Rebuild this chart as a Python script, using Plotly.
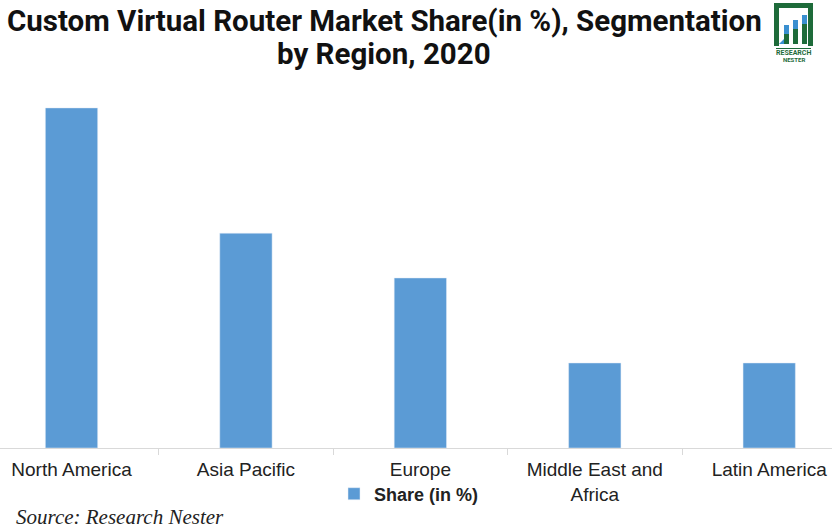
import plotly.graph_objects as go

regions = ["North America", "Asia Pacific", "Europe", "Middle East and<br>Africa", "Latin America"]
share = [38, 24, 19, 9.5, 9.5]
series_name = "Share (in %)"
title_line1 = "Custom Virtual Router Market Share(in %), Segmentation"
title_line2 = "by Region, 2020"
source_text = "Source: Research Nester"

fig = go.Figure()
fig.add_trace(go.Bar(
    x=regions, y=share, name="<b>" + series_name + "</b>",
    marker=dict(color="#5b9bd5"), width=0.30,
    showlegend=True,
))

W, H = 832, 528
mt, mb = 90, 80

shapes = []
def px(x):
    return x / W
def py(y):
    return 1 - (y - mt) / (H - mt - mb)

green = "#1e6b3a"
blue = "#3a8fd0"
shapes.append(dict(type="rect", xref="paper", yref="paper", x0=px(774), x1=px(813), y0=py(46), y1=py(3),
                   line=dict(color=green, width=0), fillcolor=green, layer="above"))
shapes.append(dict(type="rect", xref="paper", yref="paper", x0=px(779), x1=px(808), y0=py(46), y1=py(8),
                   line=dict(width=0), fillcolor="white", layer="above"))
for bx, top in [(784, 25), (793, 20), (802, 15)]:
    shapes.append(dict(type="rect", xref="paper", yref="paper", x0=px(bx), x1=px(bx + 5), y0=py(44), y1=py(top),
                       line=dict(width=0), fillcolor=green, layer="above"))
    shapes.append(dict(type="rect", xref="paper", yref="paper", x0=px(bx), x1=px(bx + 5), y0=py(top + 9), y1=py(top),
                       line=dict(width=0), fillcolor=blue, layer="above"))
shapes.append(dict(type="path", xref="paper", yref="paper",
                   path=f"M {px(779)},{py(44)} L {px(784)},{py(39)} L {px(784)},{py(44)} Z",
                   line=dict(width=0), fillcolor=blue, layer="above"))
shapes.append(dict(type="line", xref="paper", yref="paper", x0=px(776), x1=px(811), y0=py(48.5), y1=py(48.5),
                   line=dict(color=green, width=1), layer="above"))

title_font = dict(family="Roboto", size=29.5, color="#111111")
annotations = [
    dict(text="<b>" + title_line1 + "</b>", xref="paper", yref="paper", x=px(384), y=py(21),
         xanchor="center", yanchor="middle", showarrow=False, font=title_font),
    dict(text="<b>" + title_line2 + "</b>", xref="paper", yref="paper", x=px(384), y=py(54),
         xanchor="center", yanchor="middle", showarrow=False, font=title_font),
    dict(text="<i>" + source_text + "</i>", xref="paper", yref="paper", x=px(14), y=py(517),
         xanchor="left", yanchor="middle", showarrow=False,
         font=dict(family="Liberation Serif, DejaVu Serif, serif", size=21, color="#222222")),
    dict(text="<b>RESEARCH</b>", xref="paper", yref="paper", x=px(793.5), y=py(53),
         xanchor="center", yanchor="middle", showarrow=False,
         font=dict(family="Roboto", size=7, color=green)),
    dict(text="<b>NESTER</b>", xref="paper", yref="paper", x=px(793.5), y=py(59.5),
         xanchor="center", yanchor="middle", showarrow=False,
         font=dict(family="Roboto", size=6, color=green)),
]

fig.update_layout(
    width=W, height=H,
    margin=dict(l=0, r=0, t=mt, b=mb),
    paper_bgcolor="white", plot_bgcolor="white",
    font=dict(family="Liberation Sans, Arial", size=18, color="#222222"),
    bargap=0.7,
    xaxis=dict(
        range=[-0.41, 4.36], showline=True, linecolor="#d9d9d9", linewidth=1,
        ticks="outside", tickson="boundaries", ticklen=6, tickcolor="#d9d9d9",
        ticklabelstandoff=4,
        showgrid=False, tickfont=dict(size=19, color="#222222"),
    ),
    yaxis=dict(range=[0, 40], visible=False, showgrid=False, zeroline=False),
    legend=dict(orientation="h", x=px(409), xanchor="center", y=py(494), yanchor="middle",
                font=dict(family="Liberation Sans, Arial", size=18, color="#222222"),
                itemwidth=30, bgcolor="rgba(0,0,0,0)"),
    shapes=shapes,
    annotations=annotations,
)

fig.write_html("out.html")
